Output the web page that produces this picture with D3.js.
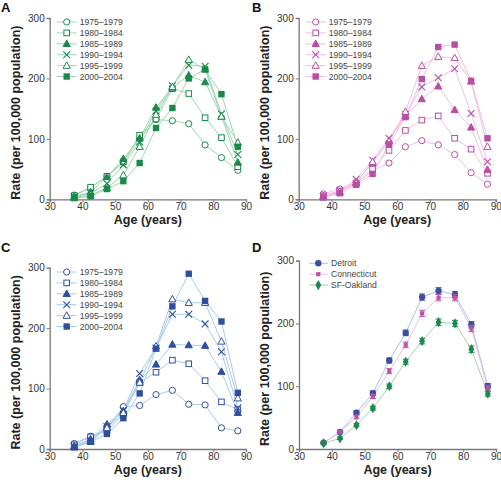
<!DOCTYPE html>
<html><head><meta charset="utf-8">
<script src="https://cdn.jsdelivr.net/npm/d3@7"></script>
<style>body{margin:0;background:#fff}svg{font-family:"Liberation Sans",Arial,Helvetica,sans-serif}</style>
</head><body><svg id="c" width="501" height="486"></svg>
<script>
const ages = [37.5,42.5,47.5,52.5,57.5,62.5,67.5,72.5,77.5,82.5,87.5];
const periods = ["1975–1979","1980–1984","1985–1989","1990–1994","1995–1999","2000–2004"];
const xTicks = [30,40,50,60,70,80,90];
const yTicks = [0,100,200,300];
const sites = ["Detroit","Connecticut","SF-Oakland"];

// Panel A (green)
const ratesA = [
  [7,19,38,61,100,132,130,125,90,69,48],
  [6,20,38,62,106,133,183,175,135,102,54],
  [5,12,37,67,101,152,185,205,194,137,61],
  [4,10,26,57,95,146,188,222,220,141,74],
  [3,7,19,40,87,140,186,231,215,137,94],
  [2,5,17,30,60,118,151,200,215,174,87]
];
// Panel B (pink)
const ratesB = [
  [9,17,28,47,60,87,97,90,74,44,25],
  [6,14,26,50,81,114,131,138,101,83,43],
  [5,12,28,60,97,138,166,187,148,119,49],
  [5,14,33,65,101,140,186,201,216,142,62],
  [4,12,27,62,96,145,221,236,234,195,87],
  [3,10,24,42,91,136,199,252,256,196,101]
];
// Panel C (blue)
const ratesC = [
  [9,21,33,70,72,90,97,74,73,35,30],
  [7,20,30,58,110,127,147,141,113,78,65],
  [5,16,41,63,114,140,173,172,171,128,60],
  [4,14,37,64,125,167,223,223,207,161,68],
  [3,12,35,60,110,170,248,242,242,178,84],
  [3,12,25,51,92,166,236,290,245,211,93]
];
// Panel D (registries)
const ratesD = [
  [10,27,58,89,141,185,242,252,246,198,100],
  [10,27,51,84,124,166,216,241,241,192,97],
  [9,17,38,65,100,139,172,202,200,159,88]
];
const errD = [
  [1.5,2,3,3.5,4,4.5,5,5,5,5,4.5],
  [1.5,2,3,3.5,4,4.5,5,5,5,5,4.5],
  [1.5,2,2.5,3,3.5,4,4.5,5,5,5,4]
];

const svg = d3.select("#c");
const shapeKinds = ["circleO","squareO","triangleF","cross","triangleO","squareF"];

function drawMarker(g, kind, x, y, dark) {
  if (kind === "circleO") {
    g.append("circle").attr("cx",x).attr("cy",y).attr("r",3.1)
      .attr("fill","#fff").attr("stroke",dark).attr("stroke-width",1);
  } else if (kind === "squareO") {
    g.append("rect").attr("x",x-2.8).attr("y",y-2.8).attr("width",5.6).attr("height",5.6)
      .attr("fill","#fff").attr("stroke",dark).attr("stroke-width",1);
  } else if (kind === "squareF") {
    g.append("rect").attr("x",x-3.2).attr("y",y-3.2).attr("width",6.4).attr("height",6.4)
      .attr("fill",dark);
  } else if (kind === "triangleF" || kind === "triangleO") {
    const p = d3.path(); p.moveTo(x,y-3.8); p.lineTo(x+3.6,y+2.7); p.lineTo(x-3.6,y+2.7); p.closePath();
    g.append("path").attr("d",p.toString())
      .attr("fill", kind==="triangleF"?dark:"#fff").attr("stroke",dark).attr("stroke-width",1);
  } else if (kind === "cross") {
    const p = d3.path(); p.moveTo(x-3.4,y-3.4); p.lineTo(x+3.4,y+3.4); p.moveTo(x+3.4,y-3.4); p.lineTo(x-3.4,y+3.4);
    g.append("path").attr("d",p.toString()).attr("fill","none").attr("stroke",dark).attr("stroke-width",1.1);
  } else if (kind === "dotC") {
    g.append("circle").attr("cx",x).attr("cy",y).attr("r",3.2).attr("fill",dark);
  } else if (kind === "dotS") {
    g.append("rect").attr("x",x-2.1).attr("y",y-2.1).attr("width",4.2).attr("height",4.2).attr("fill",dark);
  } else if (kind === "dotD") {
    g.append("path").attr("d", d3.symbol(d3.symbolDiamond, 30)()).attr("transform",`translate(${x},${y})`).attr("fill",dark);
  }
}

function axes(g, x, y, label, lx, ly) {
  const xa = g.append("g").attr("transform",`translate(0,${y.range()[0]})`)
    .call(d3.axisBottom(x).tickValues(xTicks).tickSize(3).tickPadding(1));
  const ya = g.append("g").attr("transform",`translate(${x.range()[0]},0)`)
    .call(d3.axisLeft(y).tickValues(yTicks).tickSize(3).tickPadding(2));
  [xa,ya].forEach(a=>{
    a.selectAll("path.domain").attr("stroke","#777").attr("stroke-width",1.3);
    a.selectAll(".tick line").attr("stroke","#777").attr("stroke-width",1);
    a.selectAll(".tick text").attr("fill","#333").attr("font-size",10)
      .attr("font-family","'Liberation Sans',Arial,sans-serif");
  });
  const xm = (x.range()[0]+x.range()[1])/2;
  g.append("text").attr("x",xm).attr("y",y.range()[0]+25).attr("text-anchor","middle")
    .attr("font-size",12.5).attr("font-weight","bold").attr("fill","#222").text("Age (years)");
  const ym = (y.range()[0]+y.range()[1])/2 + 4;
  g.append("text").attr("transform",`translate(${x.range()[0]-30},${ym}) rotate(-90)`)
    .attr("text-anchor","middle").attr("font-size",12.5).attr("font-weight","bold").attr("fill","#222")
    .text("Rate (per 100,000 population)");
  g.append("text").attr("x",lx).attr("y",ly).attr("font-size",13).attr("font-weight","bold")
    .attr("fill","#111").text(label);
}

function periodPanel(data, cfg) {
  const g = svg.append("g");
  const x = d3.scaleLinear().domain([30,90]).range(cfg.xr);
  const y = d3.scaleLinear().domain([0,300]).range(cfg.yr);
  axes(g, x, y, cfg.label, cfg.lx, cfg.ly);
  const line = d3.line().x((d,i)=>x(ages[i])).y(d=>y(d));
  data.forEach(s=>{
    g.append("path").datum(s).attr("d",line).attr("fill","none")
      .attr("stroke",cfg.light).attr("stroke-width",1);
  });
  data.forEach((s,k)=>{
    const mg = g.append("g");
    s.forEach((v,i)=>drawMarker(mg, shapeKinds[k], x(ages[i]), y(v), cfg.dark));
  });
  const lg = g.append("g");
  periods.forEach((p,k)=>{
    const yy = cfg.legY + k*10.9;
    lg.append("line").attr("x1",cfg.x0+7).attr("x2",cfg.x0+27).attr("y1",yy).attr("y2",yy)
      .attr("stroke",cfg.light).attr("stroke-width",1);
    drawMarker(lg, shapeKinds[k], cfg.x0+17, yy, cfg.dark);
    lg.append("text").attr("x",cfg.x0+30).attr("y",yy+3).attr("font-size",8.6)
      .attr("fill","#444").text(p);
  });
}

periodPanel(ratesA, {xr:[49.7,246], yr:[199.3,18], label:"A", lx:1, ly:12,
  dark:"#1a8a4c", light:"#9fd6b2", legY:22, x0:49.7});
periodPanel(ratesB, {xr:[298.7,495.7], yr:[199.3,18], label:"B", lx:252, ly:12,
  dark:"#b94ea6", light:"#efbfe2", legY:22, x0:298.7});
periodPanel(ratesC, {xr:[49.7,246], yr:[449,267.7], label:"C", lx:1, ly:252,
  dark:"#2f4f9e", light:"#a8cbec", legY:272, x0:49.7});

// Panel D
(function(){
  const g = svg.append("g");
  const x = d3.scaleLinear().domain([30,90]).range([299,496]);
  const y = d3.scaleLinear().domain([0,300]).range([449,260.7]);
  axes(g, x, y, "D", 252, 252);
  const darks = ["#3a4fa3","#bf52a8","#1a8a4c"];
  const lights = ["#a8c4ea","#eebfe0","#9fd6b2"];
  const kinds = ["dotC","dotS","dotD"];
  const line = d3.line().x((d,i)=>x(ages[i])).y(d=>y(d));
  ratesD.forEach((s,k)=>{
    g.append("path").datum(s).attr("d",line).attr("fill","none").attr("stroke",lights[k]).attr("stroke-width",1);
  });
  ratesD.forEach((s,k)=>{
    const mg = g.append("g");
    s.forEach((v,i)=>{
      const cx = x(ages[i]), e = errD[k][i];
      const y1 = y(v+e), y2 = y(v-e);
      mg.append("line").attr("x1",cx).attr("x2",cx).attr("y1",y1).attr("y2",y2).attr("stroke",darks[k]).attr("stroke-width",1);
      [y1,y2].forEach(yy=>mg.append("line").attr("x1",cx-3).attr("x2",cx+3).attr("y1",yy).attr("y2",yy)
        .attr("stroke",darks[k]).attr("stroke-width",1));
      drawMarker(mg, kinds[k], cx, y(v), darks[k]);
    });
  });
  sites.forEach((s,k)=>{
    const yy = 263.3 + k*10.9;
    g.append("line").attr("x1",309).attr("x2",328).attr("y1",yy).attr("y2",yy).attr("stroke",lights[k]);
    drawMarker(g, kinds[k], 318.3, yy, darks[k]);
    g.append("text").attr("x",331).attr("y",yy+3).attr("font-size",8.6).attr("fill","#444").text(s);
  });
})();
</script></body></html>
